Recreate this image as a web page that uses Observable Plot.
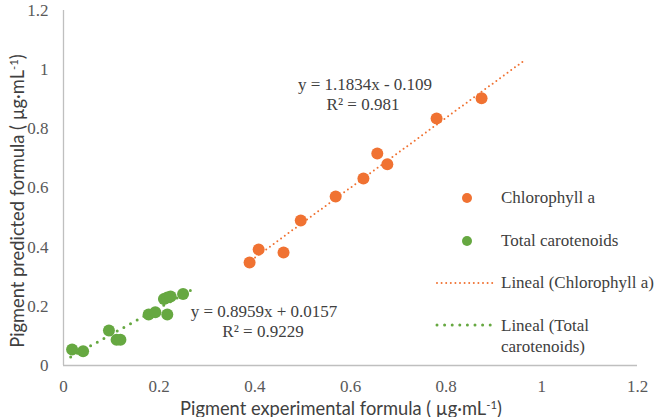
<!DOCTYPE html>
<html>
<head>
<meta charset="utf-8">
<script src="https://cdn.jsdelivr.net/npm/d3@7"></script>
<script src="https://cdn.jsdelivr.net/npm/@observablehq/plot@0.6"></script>
<style>
  html, body { margin: 0; padding: 0; background: #fff; }
  #wrap { position: relative; width: 663px; height: 417px; overflow: hidden; }
  .t { position: absolute; white-space: nowrap; }
  .serif { font-family: "Liberation Serif", "Times New Roman", serif; font-size: 17px; color: #404040; }
  .sans { font-family: Lato, "Open Sans", sans-serif; font-size: 18.3px; color: #404040; line-height: 1; }
  .c { transform: translate(-50%, -50%); }
  .l { transform: translate(0, -50%); }
  sup { font-size: 0.62em; vertical-align: 0.55em; line-height: 0; }
</style>
</head>
<body>
<div id="wrap"></div>
<script>
// ---- data ----
const chlX = [0.389, 0.408, 0.460, 0.496, 0.569, 0.627, 0.656, 0.677, 0.780, 0.874];
const chlY = [0.348, 0.392, 0.382, 0.490, 0.571, 0.632, 0.717, 0.680, 0.835, 0.903];
const carX = [0.018, 0.041, 0.095, 0.111, 0.119, 0.178, 0.192, 0.210, 0.217, 0.224, 0.217, 0.250];
const carY = [0.054, 0.048, 0.118, 0.087, 0.087, 0.172, 0.180, 0.225, 0.230, 0.233, 0.172, 0.242];
const chlFit = {slope: 1.1834, intercept: -0.109, from: 0.385, to: 0.962};
const carFit = {slope: 0.8959, intercept: 0.0157, from: 0.015, to: 0.274};
const ticks = [0, 0.2, 0.4, 0.6, 0.8, 1, 1.2];
const seriesNames = ["Chlorophyll a", "Total carotenoids"];
const fitNames = ["Lineal (Chlorophyll a)", "Lineal (Total carotenoids)"];
const eqChl = ["y = 1.1834x - 0.109", "R² = 0.981"];
const eqCar = ["y = 0.8959x + 0.0157", "R² = 0.9229"];

const ORANGE = "#F07232";
const GREEN = "#66A841";

const chl = chlX.map((x, i) => ({x, y: chlY[i]}));
const car = carX.map((x, i) => ({x, y: carY[i]}));
const fitLine = f => [f.from, f.to].map(x => ({x, y: f.slope * x + f.intercept}));

const plot = Plot.plot({
  width: 663,
  height: 417,
  marginLeft: 63,
  marginRight: 26,
  marginTop: 10,
  marginBottom: 52,
  x: {domain: [0, 1.2]},
  y: {domain: [0, 1.2]},
  style: {background: "transparent"},
  marks: [
    Plot.axisX({ticks, tickSize: 0, tickPadding: 14, tickFormat: d => String(d), label: null,
      fontSize: 17, fontFamily: "Liberation Serif, Times New Roman, serif", fill: "#595959"}),
    Plot.axisY({ticks, tickSize: 0, tickPadding: 15, tickFormat: d => String(d), label: null,
      fontSize: 17, fontFamily: "Liberation Serif, Times New Roman, serif", fill: "#595959"}),
    Plot.ruleY([0], {stroke: "#bfbfbf", strokeWidth: 1.3}),
    Plot.ruleX([0], {stroke: "#bfbfbf", strokeWidth: 1.3}),
    Plot.line(fitLine(chlFit), {x: "x", y: "y", stroke: ORANGE, strokeWidth: 2, strokeDasharray: "0 4.6", strokeLinecap: "round"}),
    Plot.line(fitLine(carFit), {x: "x", y: "y", stroke: GREEN, strokeWidth: 3, strokeDasharray: "0 7.6", strokeLinecap: "round"}),
    Plot.dot(chl, {x: "x", y: "y", r: 6, fill: ORANGE}),
    Plot.dot(car, {x: "x", y: "y", r: 6, fill: GREEN})
  ]
});

const wrap = document.getElementById("wrap");
wrap.appendChild(plot);

function addText(html, cls, left, top) {
  const d = document.createElement("div");
  d.className = "t " + cls;
  d.style.left = left + "px";
  d.style.top = top + "px";
  d.innerHTML = html;
  wrap.appendChild(d);
  return d;
}

// axis titles
addText("Pigment experimental formula ( µg·mL<sup>-1</sup>)", "sans c", 341, 407.5);
const yt = addText("Pigment predicted formula ( µg·mL<sup>-1</sup>)", "sans", 17, 201);
yt.style.transform = "translate(-50%, -50%) rotate(-90deg)";

// equations
addText(eqChl[0], "serif c", 365, 85);
addText(eqChl[1], "serif c", 363, 105);
addText(eqCar[0], "serif c", 264, 312);
addText(eqCar[1], "serif c", 263, 332);

// legend
function swatch(kind, color, left, top) {
  const ns = "http://www.w3.org/2000/svg";
  const s = document.createElementNS(ns, "svg");
  s.style.position = "absolute";
  if (kind === "dot") {
    s.setAttribute("width", 12); s.setAttribute("height", 12);
    s.style.left = (left - 6) + "px"; s.style.top = (top - 6) + "px";
    const c = document.createElementNS(ns, "circle");
    c.setAttribute("cx", 6); c.setAttribute("cy", 6); c.setAttribute("r", 5); c.setAttribute("fill", color);
    s.appendChild(c);
  } else {
    const w = kind === "lineO" ? 2 : 3;
    s.setAttribute("width", 60); s.setAttribute("height", 6);
    s.style.left = (left - 2) + "px"; s.style.top = (top - 3) + "px";
    const l = document.createElementNS(ns, "line");
    l.setAttribute("x1", 2); l.setAttribute("x2", 58); l.setAttribute("y1", 3); l.setAttribute("y2", 3);
    l.setAttribute("stroke", color); l.setAttribute("stroke-width", w);
    l.setAttribute("stroke-linecap", "round");
    l.setAttribute("stroke-dasharray", kind === "lineO" ? "0 4.6" : "0 7.6");
    s.appendChild(l);
  }
  wrap.appendChild(s);
}
swatch("dot", ORANGE, 467, 198);
swatch("dot", GREEN, 467, 241);
swatch("lineO", ORANGE, 437, 283);
swatch("lineG", GREEN, 437, 325);
addText(seriesNames[0], "serif l", 501, 198);
addText(seriesNames[1], "serif l", 501, 241);
addText(fitNames[0], "serif l", 501, 283);
addText("Lineal (Total<br>carotenoids)", "serif", 501, 315).style.lineHeight = "21px";
</script>
</body>
</html>
